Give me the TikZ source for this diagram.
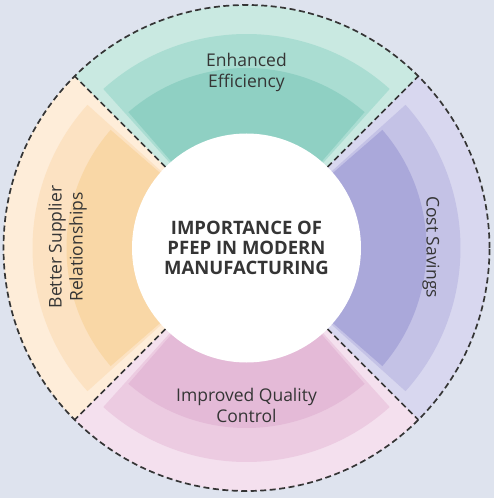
\documentclass[tikz,border=0pt]{standalone}
\usepackage{fontspec}
\setmainfont{Open Sans}
\definecolor{bgblue}{HTML}{DEE3EE}
\definecolor{greenA}{HTML}{C9E9E1}
\definecolor{greenB}{HTML}{AADDD2}
\definecolor{greenC}{HTML}{8FD0C3}
\definecolor{violetA}{HTML}{D8D7EF}
\definecolor{violetB}{HTML}{C4C2E6}
\definecolor{violetC}{HTML}{AAA8DA}
\definecolor{pinkA}{HTML}{F4E0EE}
\definecolor{pinkB}{HTML}{ECCBE1}
\definecolor{pinkC}{HTML}{E4BAD7}
\definecolor{orangeA}{HTML}{FEEDD9}
\definecolor{orangeB}{HTML}{FCE2C2}
\definecolor{orangeC}{HTML}{F9D7A6}
\definecolor{inkgray}{HTML}{353535}
\begin{document}
\begin{tikzpicture}[x=1pt, y=1pt,
    sectortext/.style={text=inkgray, align=center, font=\fontsize{17.5}{21}\selectfont},
    divider/.style={draw=inkgray, line width=1.7pt, dash pattern=on 6pt off 3.5pt}]
        % Background
        \fill[bgblue] (-246.5,-250) rectangle (247.5,248);
        \useasboundingbox (-246.5,-250) rectangle (247.5,248);

        % Draw the four sectors, three shades each
        \foreach \ang/\col in {90/green, 0/violet, 270/pink, 180/orange} {
            \fill[fill=\col A] (0,0) -- (\ang-45:243) arc[start angle=\ang-45, end angle=\ang+45, radius=243] -- cycle;
            \fill[fill=\col B] (0,0) -- (\ang-42:214) arc[start angle=\ang-42, end angle=\ang+42, radius=214] -- cycle;
            \fill[fill=\col C] (0,0) -- (\ang-41:180) arc[start angle=\ang-41, end angle=\ang+41, radius=180] -- cycle;
        }

        % Centre disc
        \node[circle, fill=white, minimum size=229pt, inner sep=0pt, align=center, text=inkgray,
            font=\bfseries\fontsize{18.5}{20}\selectfont] (hub) at (0,0)
            {IMPORTANCE OF\\PFEP IN MODERN\\MANUFACTURING};

        % Dashed dividers and rim
        \foreach \ang in {45,135,225,315} {
            \coordinate (rim\ang) at (\ang:243);
            \draw[divider] (hub.\ang) -- (rim\ang);
        }
        \draw[divider] (0,0) circle (243);

        % Sector labels
        \node[sectortext] (efficiency) at (0,176) {Enhanced\\Efficiency};
        \node[sectortext, rotate=-90] (savings) at (184.5,1) {Cost Savings};
        \node[sectortext] (quality) at (0,-157) {Improved Quality\\Control};
        \node[sectortext, rotate=90] (supplier) at (-179,1) {Better Supplier\\Relationships};
\end{tikzpicture}
\end{document}
